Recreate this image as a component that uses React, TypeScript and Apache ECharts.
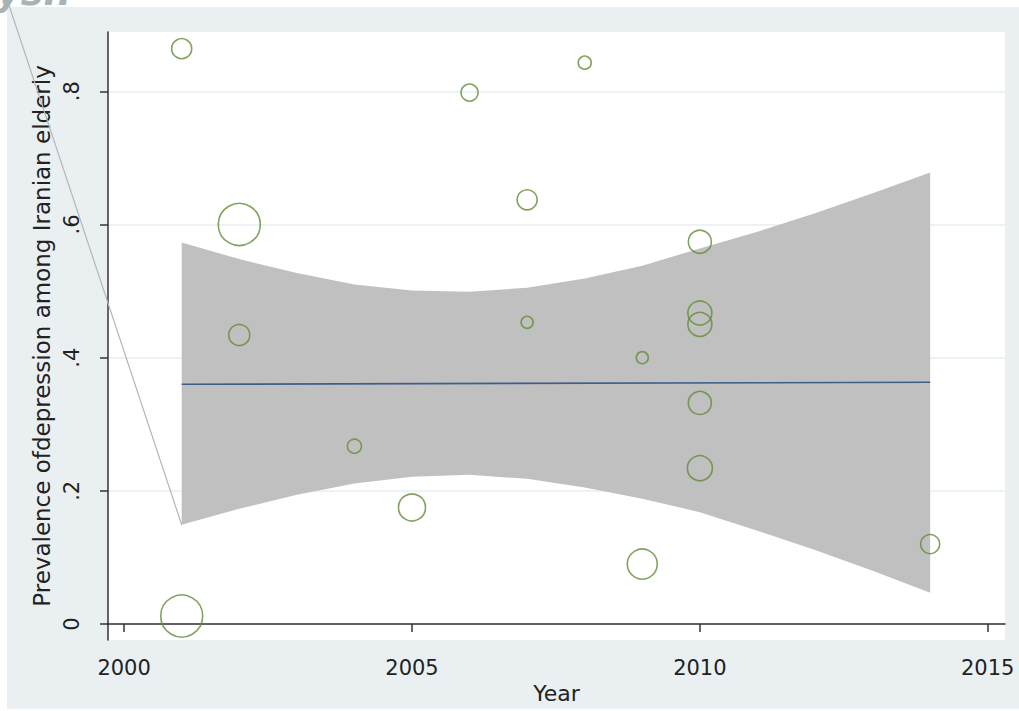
import React, { useEffect, useRef } from "react";
import * as echarts from "echarts";

// Study-level data: year, prevalence, bubble weight (marker diameter)
const studyYears = [2001, 2002, 2002, 2001, 2004, 2005, 2006, 2007, 2007, 2008, 2009, 2009, 2010, 2010, 2010, 2010, 2010, 2014];
const studyPrev = [0.864, 0.600, 0.434, 0.012, 0.267, 0.175, 0.798, 0.637, 0.453, 0.843, 0.400, 0.090, 0.574, 0.467, 0.450, 0.332, 0.234, 0.120];
const studyWeight = [20, 42, 21, 42, 14, 27, 17, 20, 12, 13, 12, 30, 23, 24, 24, 23, 25, 19];

// Confidence band
const bandYears = [2001, 2002, 2003, 2004, 2005, 2006, 2007, 2008, 2009, 2010, 2011, 2012, 2013, 2014];
const bandUpper = [0.573, 0.548, 0.527, 0.510, 0.501, 0.499, 0.505, 0.519, 0.538, 0.564, 0.589, 0.617, 0.647, 0.678];
const bandLower = [0.149, 0.173, 0.194, 0.211, 0.221, 0.224, 0.218, 0.205, 0.188, 0.168, 0.140, 0.111, 0.080, 0.047];

// Fitted line
const fitYears = [2001, 2014];
const fitValues = [0.360, 0.363];

// Stray segment from the band outline
const strayX = [1997.92, 2001];
const strayY = [0.95, 0.149];

const xTicks = [2000, 2005, 2010, 2015];
const xTickLabels = ["2000", "2005", "2010", "2015"];
const yTicks = [0, 0.2, 0.4, 0.6, 0.8];
const yTickLabels = ["0", ".2", ".4", ".6", ".8"];

const FONT = "DejaVu Sans";

export default function App() {
  const ref = useRef<HTMLDivElement>(null);
  useEffect(() => {
    if (!ref.current) return;
    const chart = echarts.init(ref.current, undefined, { renderer: "svg" });
    const green = "#628c37";
    const option: any = {
      animation: false,
      backgroundColor: "#ffffff",
      textStyle: { fontFamily: FONT },
      graphic: [
        {
          type: "rect",
          z: -100,
          silent: true,
          shape: { x: 7, y: 7, width: 1012, height: 702 },
          style: { fill: "#eaf0f2" },
        },
        {
          type: "text",
          z: 100,
          silent: true,
          x: -4,
          y: -27,
          style: {
            text: "ysn",
            font: "italic bold 38px 'DejaVu Sans'",
            fill: "#a9b2b6",
          },
        },
      ],
      grid: {
        left: 108,
        top: 32,
        right: 14,
        bottom: 71,
        show: true,
        backgroundColor: "#ffffff",
        borderWidth: 0,
      },
      xAxis: {
        type: "value",
        min: 1999.72,
        max: 2015.3,
        name: "Year",
        nameLocation: "middle",
        nameGap: 42,
        nameTextStyle: { fontSize: 22, color: "#222", fontFamily: FONT },
        axisLine: { show: true, lineStyle: { color: "#333", width: 1.5 } },
        axisTick: { show: true, length: 8, customValues: xTicks, lineStyle: { color: "#333", width: 1.5 } },
        axisLabel: {
          customValues: xTicks,
          margin: 17,
          fontSize: 21,
          color: "#222",
          fontFamily: FONT,
          formatter: (v: number) => xTickLabels[xTicks.indexOf(v)] ?? String(v),
        },
        splitLine: { show: false },
      },
      yAxis: {
        type: "value",
        min: -0.024,
        max: 0.889,
        name: "Prevalence ofdepression among Iranian elderly",
        nameLocation: "middle",
        nameGap: 51,
        nameTextStyle: { fontSize: 23, color: "#222", fontFamily: FONT },
        axisLine: { show: true, lineStyle: { color: "#333", width: 1.5 } },
        axisTick: { show: true, length: 8, customValues: yTicks, lineStyle: { color: "#333", width: 1.5 } },
        axisLabel: {
          customValues: yTicks,
          rotate: 90,
          margin: 26,
          fontSize: 21,
          color: "#222",
          fontFamily: FONT,
          formatter: (v: number) => {
            const i = yTicks.findIndex((t) => Math.abs(t - v) < 1e-9);
            return i >= 0 ? yTickLabels[i] : String(v);
          },
        },
        splitLine: { show: true, lineStyle: { color: "#e6eff1", width: 1.5 } },
      },
      series: [
        {
          type: "custom",
          name: "band",
          clip: true,
          data: bandYears.map((x, i) => [x, bandUpper[i], bandLower[i]]),
          encode: { x: 0, y: [1, 2] },
          renderItem: (params: any, api: any) => {
            if (params.dataIndex !== 0) return null;
            const up = bandYears.map((x, i) => api.coord([x, bandUpper[i]]));
            const lo = bandYears.map((x, i) => api.coord([x, bandLower[i]])).reverse();
            return {
              type: "polygon",
              shape: { points: up.concat(lo) },
              style: { fill: "#c0c0c0", stroke: "none" },
            };
          },
          z: 1,
        },
        {
          type: "custom",
          name: "stray",
          clip: false,
          data: strayX.map((x, i) => [x, strayY[i]]),
          encode: { x: 0, y: 1 },
          renderItem: (params: any, api: any) => {
            if (params.dataIndex !== 0) return null;
            const a = api.coord([strayX[0], strayY[0]]);
            const b = api.coord([strayX[1], strayY[1]]);
            return {
              type: "line",
              shape: { x1: a[0], y1: a[1], x2: b[0], y2: b[1] },
              style: { stroke: "#b5b5b5", lineWidth: 1.2 },
            };
          },
          z: 2,
        },
        {
          type: "line",
          name: "fit",
          symbol: "none",
          lineStyle: { color: "#3d5f8a", width: 1.6 },
          data: fitYears.map((x, i) => [x, fitValues[i]]),
          z: 3,
        },
        {
          type: "scatter",
          name: "studies",
          symbol: "circle",
          symbolSize: (v: number[]) => v[2],
          itemStyle: { color: "rgba(0,0,0,0)", borderColor: green, borderWidth: 1.6 },
          data: studyYears.map((x, i) => [x, studyPrev[i], studyWeight[i]]),
          z: 4,
        },
      ],
    };
    chart.setOption(option);
    return () => chart.dispose();
  }, []);
  return (
    <div
      ref={ref}
      style={{ position: "fixed", left: 0, top: 0, width: 1019, height: 711 }}
    />
  );
}
